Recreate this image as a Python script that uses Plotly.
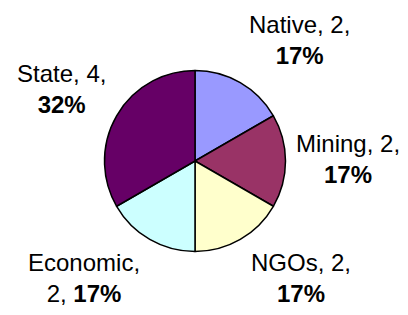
import plotly.graph_objects as go

categories = ["Native", "Mining", "NGOs", "Economic", "State"]
values = [2, 2, 2, 2, 4]
pct_labels = ["17%", "17%", "17%", "17%", "32%"]
colors = ["#9999FF", "#993366", "#FFFFCC", "#CCFFFF", "#660066"]

W, H = 408, 315
# label block centres (pixels) - text placement only
label_pos = {"Native": (299, 40), "Mining": (348, 159), "NGOs": (301, 278),
             "Economic": (84, 278), "State": (62, 89)}

fig = go.Figure(go.Pie(
    labels=categories, values=values, sort=False, direction="clockwise",
    rotation=0, textinfo="none", hoverinfo="label+value",
    marker=dict(colors=colors, line=dict(color="black", width=1.5)),
    domain=dict(x=[(195 - 90.5) / W, (195 + 90.5) / W],
                y=[1 - 251.5 / H, 1 - 70.5 / H]),
    showlegend=False,
))

for cat, v, p in zip(categories, values, pct_labels):
    if cat == "Economic":
        txt = f"{cat},<br>{v}, <b>{p}</b>"
    else:
        txt = f"{cat}, {v},<br><b>{p}</b>"
    px, py = label_pos[cat]
    fig.add_annotation(x=px / W, y=1 - py / H, xref="paper", yref="paper",
                       text=txt, showarrow=False, xanchor="center", yanchor="middle",
                       align="center", font=dict(family="Liberation Sans, Arial", size=24, color="black"))

fig.update_layout(width=W, height=H, margin=dict(l=0, r=0, t=0, b=0),
                  paper_bgcolor="white", plot_bgcolor="white")
fig.write_html("out.html", config={"displayModeBar": False},
               post_script="document.body.style.margin='0';")
